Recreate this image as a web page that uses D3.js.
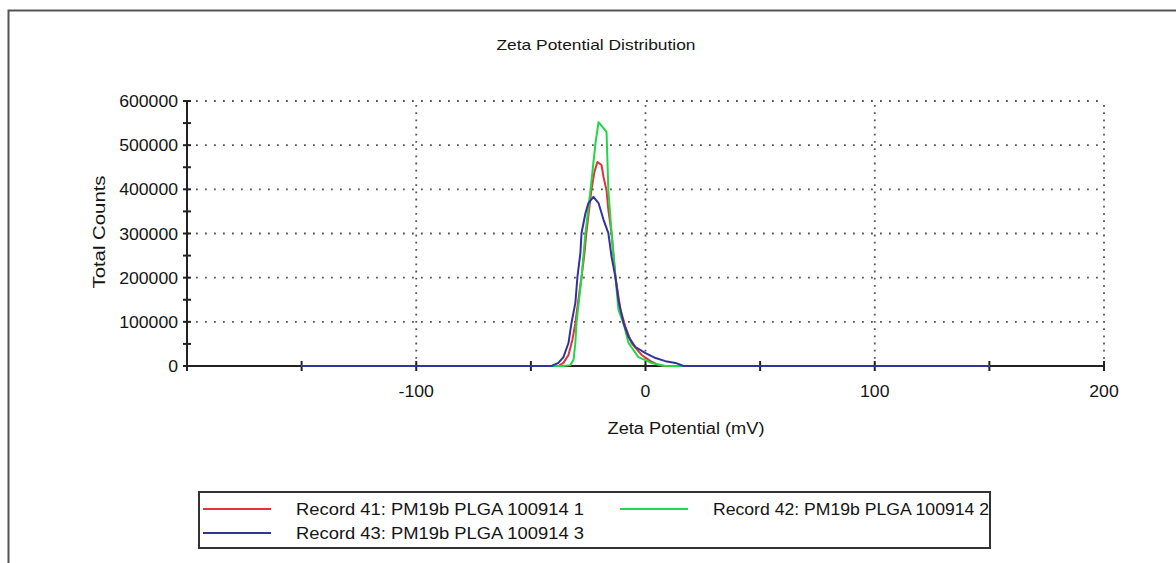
<!DOCTYPE html>
<html>
<head>
<meta charset="utf-8">
<script src="https://cdn.jsdelivr.net/npm/d3@7/dist/d3.min.js"></script>
<style>
  body { margin: 0; background: #fff; }
  svg text { font-family: "Liberation Sans", Arial, sans-serif; fill: #151515; }
</style>
</head>
<body>
<svg id="chart" width="1176" height="563"></svg>
<script>
// zeta potential (mV) / total counts
const rec41X = [-150, -38, -35.8, -33.6, -31.9, -30.6, -29.3, -27.9, -26.6, -25.8, -23.6, -22.3, -21.0, -19.2, -18.3, -17.0, -16.2, -14.8, -13.1, -10.9, -8.7, -6.1, -1.7, 2.2, 5.7, 7.9, 150];
const rec41Y = [0, 0, 7000, 25000, 59000, 97000, 149000, 201000, 256000, 301000, 398000, 439000, 462000, 455000, 428000, 398000, 353000, 301000, 201000, 127000, 88000, 52000, 25000, 11000, 2000, 0, 0];

const rec42X = [-150, -35.8, -32.8, -31.4, -30.6, -30.1, -27.9, -26.2, -24.0, -21.8, -20.5, -17.0, -16.2, -14.8, -13.1, -11.8, -9.6, -7.4, -3.1, 2.6, 8.7, 150];
const rec42Y = [0, 0, 2000, 14000, 52000, 97000, 201000, 301000, 398000, 505000, 552000, 530000, 398000, 301000, 201000, 127000, 97000, 52000, 20000, 7000, 0, 0];

const rec43X = [-150, -41, -38, -35.8, -33.6, -32.3, -30.6, -29.7, -28.4, -27.9, -26.2, -24.9, -22.7, -20.5, -18.3, -16.2, -14.8, -13.1, -11.8, -9.6, -7.4, -4.4, 0, 4.4, 8.7, 13.1, 16.6, 150];
const rec43Y = [0, 0, 7000, 20000, 52000, 97000, 143000, 201000, 256000, 301000, 346000, 369000, 383000, 369000, 331000, 301000, 247000, 201000, 149000, 97000, 66000, 43000, 29000, 18000, 11000, 7000, 0, 0];

const seriesNames = ["Record 41: PM19b PLGA 100914 1", "Record 42: PM19b PLGA 100914 2", "Record 43: PM19b PLGA 100914 3"];
const seriesColors = ["#e0333a", "#22d648", "#33339a"];

const xTicks = [-200, -150, -100, -50, 0, 50, 100, 150, 200];
const xLabels = [-100, 0, 100, 200];
const yTicks = d3.range(0, 600001, 50000);
const yLabels = [0, 100000, 200000, 300000, 400000, 500000, 600000];

const svg = d3.select('#chart');
svg.append('rect').attr('width', 1176).attr('height', 563).attr('fill', '#fff');

// outer frame (only top and left visible)
svg.append('path')
    .attr('d', 'M8.5,563 V10.5 H1176')
    .attr('fill', 'none').attr('stroke', '#555').attr('stroke-width', 2);

const x = d3.scaleLinear().domain([-200, 200]).range([187, 1104]);
const y = d3.scaleLinear().domain([0, 600000]).range([366, 101]);

// grid
svg.append('g').selectAll('line').data(yLabels.filter(d => d > 0)).enter().append('line')
    .attr('x1', x(-200)).attr('x2', x(200))
    .attr('y1', d => y(d)).attr('y2', d => y(d))
    .attr('stroke', '#555').attr('stroke-width', 1.8).attr('stroke-dasharray', '1.8,7.2');
svg.append('g').selectAll('line').data(xLabels).enter().append('line')
    .attr('x1', d => x(d)).attr('x2', d => x(d))
    .attr('y1', y(0)).attr('y2', y(600000))
    .attr('stroke', '#555').attr('stroke-width', 1.8).attr('stroke-dasharray', '1.8,5.4');

// axes lines
svg.append('line').attr('x1', x(-200)).attr('x2', x(200)).attr('y1', y(0)).attr('y2', y(0))
    .attr('stroke', '#222').attr('stroke-width', 2);
svg.append('line').attr('x1', x(-200)).attr('x2', x(-200)).attr('y1', y(0)).attr('y2', y(600000))
    .attr('stroke', '#222').attr('stroke-width', 2);

// tick marks crossing the axes
svg.append('g').selectAll('line').data(xTicks).enter().append('line')
    .attr('x1', d => x(d)).attr('x2', d => x(d))
    .attr('y1', y(0) - 5).attr('y2', y(0) + 5)
    .attr('stroke', '#222').attr('stroke-width', 2);
svg.append('g').selectAll('line').data(yTicks).enter().append('line')
    .attr('x1', x(-200) - 4).attr('x2', x(-200) + 4)
    .attr('y1', d => y(d)).attr('y2', d => y(d))
    .attr('stroke', '#222').attr('stroke-width', 2);

function labelWidth(s) {
    let w = 0;
    for (const c of s) w += c === '-' ? 6 : 9.8;
    return w;
}

svg.append('g').selectAll('text').data(yLabels).enter().append('text')
    .attr('x', x(-200) - 9).attr('y', d => y(d) + 6)
    .attr('text-anchor', 'end').style('font-size', '16px')
    .attr('textLength', d => labelWidth(String(d))).attr('lengthAdjust', 'spacingAndGlyphs')
    .text(d => d);
svg.append('g').selectAll('text').data(xLabels).enter().append('text')
    .attr('x', d => x(d)).attr('y', 397)
    .attr('text-anchor', 'middle').style('font-size', '16px')
    .attr('textLength', d => labelWidth(String(d))).attr('lengthAdjust', 'spacingAndGlyphs')
    .text(d => d);

// titles
svg.append('text').attr('x', 596).attr('y', 50).attr('text-anchor', 'middle')
    .style('font-size', '15px').attr('textLength', 199).attr('lengthAdjust', 'spacingAndGlyphs')
    .text('Zeta Potential Distribution');
svg.append('text').attr('x', 686).attr('y', 434).attr('text-anchor', 'middle')
    .style('font-size', '16px').attr('textLength', 157).attr('lengthAdjust', 'spacingAndGlyphs')
    .text('Zeta Potential (mV)');
svg.append('text').attr('transform', 'translate(105,232) rotate(-90)').attr('text-anchor', 'middle')
    .style('font-size', '16px').attr('textLength', 113).attr('lengthAdjust', 'spacingAndGlyphs')
    .text('Total Counts');

// series
const seriesX = [rec41X, rec42X, rec43X];
const seriesY = [rec41Y, rec42Y, rec43Y];
const line = d3.line().x(d => x(d[0])).y(d => y(d[1]));
seriesX.forEach((xs, i) => {
    const pts = xs.map((v, j) => [v, seriesY[i][j]]);
    svg.append('path').datum(pts)
        .attr('d', line)
        .attr('fill', 'none')
        .attr('stroke', seriesColors[i])
        .attr('stroke-width', 2)
        .attr('stroke-linejoin', 'round');
});

// legend
const legend = svg.append('g');
legend.append('rect').attr('x', 199).attr('y', 492).attr('width', 791).attr('height', 56)
    .attr('fill', '#fff').attr('stroke', '#333').attr('stroke-width', 2);
const legendPos = [[203, 509], [620, 509], [203, 533]];
const legendLen = [288, 276, 288];
seriesNames.forEach((name, i) => {
    const [lx, ly] = legendPos[i];
    legend.append('line').attr('x1', lx).attr('x2', lx + 68).attr('y1', ly).attr('y2', ly)
        .attr('stroke', seriesColors[i]).attr('stroke-width', 2);
    legend.append('text').attr('x', lx + 93).attr('y', ly + 6)
        .style('font-size', '16px').attr('textLength', legendLen[i]).attr('lengthAdjust', 'spacingAndGlyphs')
        .text(name);
});
</script>
</body>
</html>
